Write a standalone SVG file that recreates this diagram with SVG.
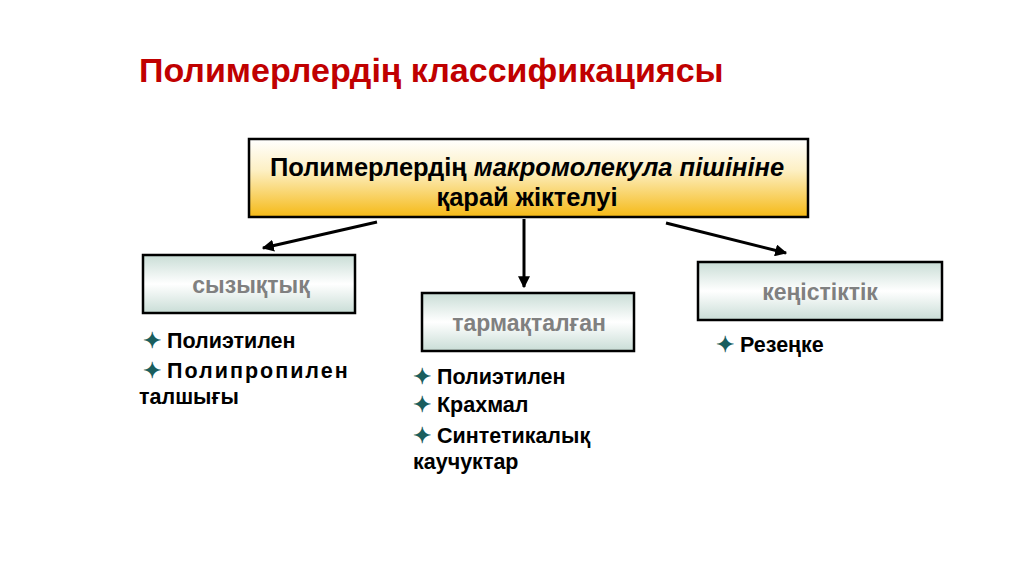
<svg xmlns="http://www.w3.org/2000/svg" width="1024" height="574" viewBox="0 0 1024 574">
<defs>
<linearGradient id="gold" x1="0" y1="0" x2="0" y2="1">
<stop offset="0" stop-color="#ffffff"/>
<stop offset="0.4" stop-color="#fdf0c4"/>
<stop offset="1" stop-color="#f5b915"/>
</linearGradient>
<linearGradient id="green" x1="0" y1="0" x2="0" y2="1">
<stop offset="0" stop-color="#c9ddd6"/>
<stop offset="0.5" stop-color="#ffffff"/>
<stop offset="1" stop-color="#c9ddd6"/>
</linearGradient>
<marker id="ah" viewBox="0 0 10 10" refX="9" refY="5" markerWidth="4" markerHeight="4" orient="auto" markerUnits="strokeWidth">
<path d="M0,0 L10,5 L0,10 Z" fill="#000"/>
</marker>
<style>
.title{font-family:"Liberation Sans",Arial,sans-serif;font-weight:bold;font-size:34px;fill:#c00000}
.main{font-family:"Liberation Sans",Arial,sans-serif;font-weight:bold;font-size:25.5px;fill:#000}
.box{stroke:#000;stroke-width:2.5;fill:url(#green)}
.lbl{font-family:"Liberation Sans",Arial,sans-serif;font-weight:bold;font-size:23px;fill:#808080}
.item{font-family:"Liberation Sans",Arial,sans-serif;font-weight:bold;font-size:21.5px;fill:#000}
.b{fill:#1a5e5e}
.con{stroke:#000;stroke-width:3;fill:none;marker-end:url(#ah)}
</style>
</defs>
<rect width="1024" height="574" fill="#fff"/>
<text class="title" x="139" y="82">Полимерлердің классификациясы</text>
<g id="root">
<rect x="249" y="139" width="559" height="78" fill="url(#gold)" stroke="#000" stroke-width="2.5"/>
<text class="main" x="527" y="176" text-anchor="middle">Полимерлердің <tspan font-style="italic">макромолекула пішініне</tspan></text>
<text class="main" x="527" y="206" text-anchor="middle">қарай жіктелуі</text>
</g>
<g id="connectors">
<line class="con" x1="377" y1="222" x2="263" y2="248"/>
<line class="con" x1="524" y1="219" x2="524" y2="287"/>
<line class="con" x1="666" y1="223" x2="786" y2="253"/>
</g>
<g id="linear">
<rect class="box" x="143" y="255" width="212" height="58"/>
<text class="lbl" x="251" y="293" text-anchor="middle">сызықтық</text>
<text class="item" x="143" y="348"><tspan class="b">✦</tspan> Полиэтилен</text>
<text class="item" x="143" y="378"><tspan class="b">✦</tspan> <tspan letter-spacing="2">Полипропилен</tspan></text>
<text class="item" x="139" y="404">талшығы</text>
</g>
<g id="branched">
<rect class="box" x="422" y="293" width="212" height="58"/>
<text class="lbl" x="529" y="331" text-anchor="middle">тармақталған</text>
<text class="item" x="413" y="384"><tspan class="b">✦</tspan> Полиэтилен</text>
<text class="item" x="413" y="412"><tspan class="b">✦</tspan> Крахмал</text>
<text class="item" x="413" y="443"><tspan class="b">✦</tspan> Синтетикалық</text>
<text class="item" x="413" y="469">каучуктар</text>
</g>
<g id="spatial">
<rect class="box" x="698" y="262" width="244" height="58"/>
<text class="lbl" x="820" y="300" text-anchor="middle">кеңістіктік</text>
<text class="item" x="716" y="352"><tspan class="b">✦</tspan> Резеңке</text>
</g>
</svg>
